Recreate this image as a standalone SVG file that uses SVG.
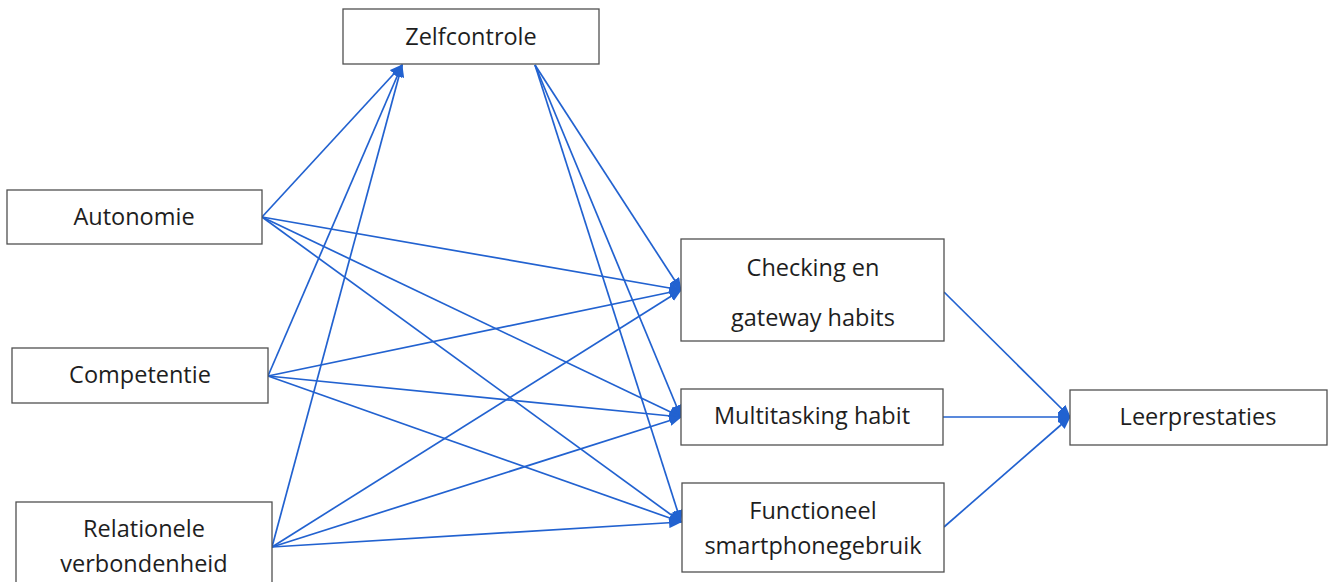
<svg xmlns="http://www.w3.org/2000/svg" width="1330" height="582" viewBox="0 0 1330 582">
  <style>
    .box { fill: #ffffff; stroke: #505050; stroke-width: 1.3; }
    .lbl { font-family: "Open Sans", "Noto Sans", "Liberation Sans", sans-serif; font-size: 23.5px; fill: #1e1e1e; text-anchor: middle; dominant-baseline: central; }
    .edge { stroke: #2262D0; stroke-width: 1.7; fill: none; marker-end: url(#arrow); }
  </style>
  <defs>
    <marker id="arrow" viewBox="0 0 12 10" refX="11" refY="5" markerWidth="13" markerHeight="11" markerUnits="userSpaceOnUse" orient="auto">
      <path d="M0,0 L12,5 L0,10 z" fill="#2262D0"/>
    </marker>
  </defs>
  <rect width="1330" height="582" fill="#ffffff"/>

  <g id="connectors">
    <!-- motivation needs to self-control -->
    <line class="edge" x1="262" y1="217" x2="402" y2="65"/>
    <line class="edge" x1="268" y1="376" x2="402" y2="65"/>
    <line class="edge" x1="272" y1="547" x2="402" y2="65"/>
    <!-- self-control to habits -->
    <line class="edge" x1="535" y1="65" x2="681" y2="290"/>
    <line class="edge" x1="535" y1="65" x2="681" y2="417"/>
    <line class="edge" x1="535" y1="65" x2="681" y2="522"/>
    <!-- autonomy to habits -->
    <line class="edge" x1="262" y1="217" x2="681" y2="290"/>
    <line class="edge" x1="262" y1="217" x2="681" y2="417"/>
    <line class="edge" x1="262" y1="217" x2="681" y2="522"/>
    <!-- competence to habits -->
    <line class="edge" x1="268" y1="376" x2="681" y2="290"/>
    <line class="edge" x1="268" y1="376" x2="681" y2="417"/>
    <line class="edge" x1="268" y1="376" x2="681" y2="522"/>
    <!-- relatedness to habits -->
    <line class="edge" x1="272" y1="547" x2="681" y2="290"/>
    <line class="edge" x1="272" y1="547" x2="681" y2="417"/>
    <line class="edge" x1="272" y1="547" x2="681" y2="522"/>
    <!-- habits to learning performance -->
    <line class="edge" x1="944" y1="292" x2="1070" y2="417"/>
    <line class="edge" x1="943" y1="417" x2="1070" y2="417"/>
    <line class="edge" x1="944" y1="527" x2="1070" y2="417"/>
  </g>

  <g id="zelfcontrole">
    <rect class="box" x="343" y="9" width="256" height="55"/>
    <text class="lbl" x="471" y="36">Zelfcontrole</text>
  </g>
  <g id="autonomie">
    <rect class="box" x="7" y="190" width="255" height="54"/>
    <text class="lbl" x="134" y="216">Autonomie</text>
  </g>
  <g id="competentie">
    <rect class="box" x="12" y="348" width="256" height="55"/>
    <text class="lbl" x="140" y="374">Competentie</text>
  </g>
  <g id="relationele-verbondenheid">
    <rect class="box" x="16" y="502" width="256" height="90"/>
    <text class="lbl" x="144" y="528">Relationele</text>
    <text class="lbl" x="144" y="563">verbondenheid</text>
  </g>
  <g id="checking">
    <rect class="box" x="681" y="239" width="263" height="102"/>
    <text class="lbl" x="813" y="267">Checking en</text>
    <text class="lbl" x="813" y="317">gateway habits</text>
  </g>
  <g id="multitasking">
    <rect class="box" x="681" y="389" width="262" height="56"/>
    <text class="lbl" x="812" y="415">Multitasking habit</text>
  </g>
  <g id="functioneel">
    <rect class="box" x="682" y="483" width="262" height="89"/>
    <text class="lbl" x="813" y="510">Functioneel</text>
    <text class="lbl" x="813" y="545">smartphonegebruik</text>
  </g>
  <g id="leerprestaties">
    <rect class="box" x="1070" y="390" width="257" height="55"/>
    <text class="lbl" x="1198" y="416">Leerprestaties</text>
  </g>
</svg>
